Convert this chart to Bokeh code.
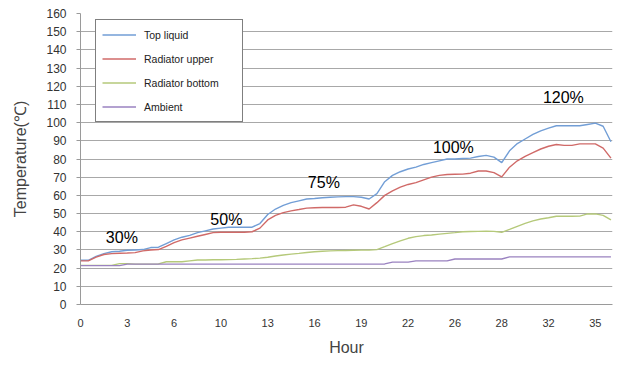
from bokeh.plotting import figure
from bokeh.models import ColumnDataSource, Range1d, FixedTicker, Legend, LegendItem
from bokeh.core.properties import value
from bokeh.embed import file_html
from bokeh.resources import INLINE

# ---- data (sample index -> temperature) ----
tick_labels = ["0", "3", "6", "10", "13", "16", "19", "22", "26", "28", "32", "35"]
samples_per_label = 6

top_liquid = [24.3, 24.3, 26.5, 28, 29, 29.3, 29.8, 30, 30.2, 31.3,
              31.5, 33.5, 35.5, 37, 38, 39.5, 40.5, 41.5, 42, 42.5,
              42.5, 42.5, 42.5, 44.5, 49.5, 52.5, 54.5, 56, 57, 58,
              58.3, 58.7, 59, 59.2, 59.3, 59.3, 59, 58, 61, 67.5,
              71, 73, 74.5, 75.5, 77, 78, 79, 80, 80, 80.3,
              80.5, 81.4, 82, 81, 78, 84.5, 88.5, 91, 93.5, 95.5,
              97, 98.3, 98.3, 98.3, 98.3, 99, 99.7, 98, 89.5]
radiator_upper = [24, 24, 26, 27.5, 28, 28.2, 28.3, 28.5, 29.5, 30,
                  30.2, 32, 34, 35.5, 36.5, 37.5, 38.5, 39.5, 39.7, 39.7,
                  39.7, 39.7, 40, 42, 46.5, 49, 50.5, 51.5, 52.2, 53,
                  53.2, 53.3, 53.3, 53.3, 53.5, 54.8, 54, 52.5, 56, 60,
                  62.5, 64.5, 66, 67, 68.5, 70, 71, 71.5, 71.6, 71.7,
                  72.2, 73.4, 73.4, 72.5, 70.2, 75.5, 79, 81.5, 83.5, 85.5,
                  87, 88, 87.5, 87.5, 88.3, 88.3, 88.3, 86, 80.5]
radiator_bottom = [21.5, 21.5, 21.5, 21.5, 21.5, 22.5, 22.5, 22.2, 22.2, 22.2,
                   22.3, 23.5, 23.5, 23.5, 24, 24.5, 24.5, 24.6, 24.6, 24.7,
                   24.8, 25, 25.2, 25.5, 26, 26.7, 27.2, 27.7, 28.1, 28.6,
                   29, 29.3, 29.5, 29.6, 29.7, 29.8, 29.9, 29.9, 30.2, 31.8,
                   33.5, 35, 36.4, 37.3, 37.9, 38.2, 38.7, 39.1, 39.5, 40,
                   40.1, 40.2, 40.3, 40.2, 39.7, 41.3, 43, 44.6, 46, 47,
                   47.7, 48.5, 48.5, 48.5, 48.6, 49.8, 49.8, 49, 46.5]
ambient = [21.4, 21.4, 21.4, 21.4, 21.4, 21.4, 22.2, 22.2, 22.2, 22.2,
           22.2, 22.2, 22.2, 22.2, 22.2, 22.2, 22.2, 22.2, 22.2, 22.2,
           22.2, 22.2, 22.2, 22.2, 22.2, 22.2, 22.2, 22.2, 22.2, 22.2,
           22.2, 22.2, 22.2, 22.2, 22.2, 22.2, 22.2, 22.2, 22.2, 22.3,
           23.3, 23.3, 23.3, 24, 24, 24, 24, 24, 25, 25,
           25, 25, 25, 25, 25, 26.2, 26.2, 26.2, 26.2, 26.2,
           26.2, 26.2, 26.2, 26.2, 26.2, 26.2, 26.2, 26.2, 26.2]

series_names = ["Top liquid", "Radiator upper", "Radiator bottom", "Ambient"]
series_colors = ["#729ed6", "#d06a68", "#b5c97a", "#9a82c0"]

load_labels = ["30%", "50%", "75%", "100%", "120%"]
load_label_x = [5.3, 18.7, 31.2, 47.8, 61.9]
load_label_y = [37, 47, 67, 86.5, 114]

hours = list(range(len(top_liquid)))
src = ColumnDataSource(dict(x=hours, a=top_liquid, b=radiator_upper,
                            c=radiator_bottom, d=ambient))

p = figure(width=614, height=358, output_backend="svg", toolbar_location=None,
           x_range=Range1d(0, 68.2), y_range=Range1d(0, 160),
           min_border_left=80, min_border_right=2, min_border_top=13,
           min_border_bottom=50)
p.outline_line_color = None
p.background_fill_color = "white"

renderers = []
for col, name, color in zip(["a", "b", "c", "d"], series_names, series_colors):
    r = p.line("x", col, source=src, line_color=color, line_width=1.4)
    renderers.append((name, r))

p.text(x=load_label_x, y=load_label_y, text=load_labels,
       text_font=value("Liberation Sans"), text_font_size="16px",
       text_align="center", text_baseline="middle", text_color="black")

# axes
tick_pos = [i * samples_per_label for i in range(len(tick_labels))]
p.xaxis.ticker = FixedTicker(ticks=tick_pos)
p.xaxis.major_label_overrides = {t: l for t, l in zip(tick_pos, tick_labels)}
p.xaxis.major_tick_out = 0
p.xaxis.major_tick_in = 0
p.xaxis.minor_tick_line_color = None
p.xaxis.axis_line_color = "#9a9a9a"
p.xaxis.major_label_standoff = 14
p.xaxis.major_label_text_font = "Liberation Sans"
p.xaxis.major_label_text_font_size = "11px"
p.xaxis.major_label_text_color = "#333333"
p.xaxis.axis_label = "Hour"
p.xaxis.axis_label_text_font = "Liberation Sans"
p.xaxis.axis_label_text_font_size = "16px"
p.xaxis.axis_label_text_font_style = "normal"
p.xaxis.axis_label_standoff = 9

p.yaxis.ticker = FixedTicker(ticks=list(range(0, 161, 10)))
p.yaxis.major_tick_out = 4
p.yaxis.major_tick_in = 0
p.yaxis.major_tick_line_color = "#9a9a9a"
p.yaxis.minor_tick_line_color = None
p.yaxis.axis_line_color = "#9a9a9a"
p.yaxis.major_label_standoff = 10
p.yaxis.major_label_text_font = "Liberation Sans"
p.yaxis.major_label_text_font_size = "12px"
p.yaxis.major_label_text_color = "#333333"
p.yaxis.axis_label = "Temperature(℃)"
p.yaxis.axis_label_text_font = "Liberation Sans"
p.yaxis.axis_label_text_font_size = "16px"
p.yaxis.axis_label_text_font_style = "normal"
p.yaxis.axis_label_standoff = 14

p.xgrid.grid_line_color = None
p.ygrid.grid_line_color = "#a8a8a8"
p.ygrid.grid_line_width = 1

legend = Legend(items=[LegendItem(label=n, renderers=[r]) for n, r in renderers],
                location=(15, 182), orientation="vertical")
legend.border_line_color = "black"
legend.border_line_width = 1
legend.background_fill_color = "white"
legend.background_fill_alpha = 1
legend.padding = 6
legend.spacing = 7
legend.glyph_height = 17
legend.label_height = 17
legend.glyph_width = 34
legend.label_standoff = 8
legend.label_width = 92
legend.label_text_font = "Liberation Sans"
legend.label_text_font_size = "10.5px"
legend.label_text_color = "#222222"
legend.margin = 0
p.add_layout(legend, "center")

open("out.html", "w").write(file_html(p, INLINE))
